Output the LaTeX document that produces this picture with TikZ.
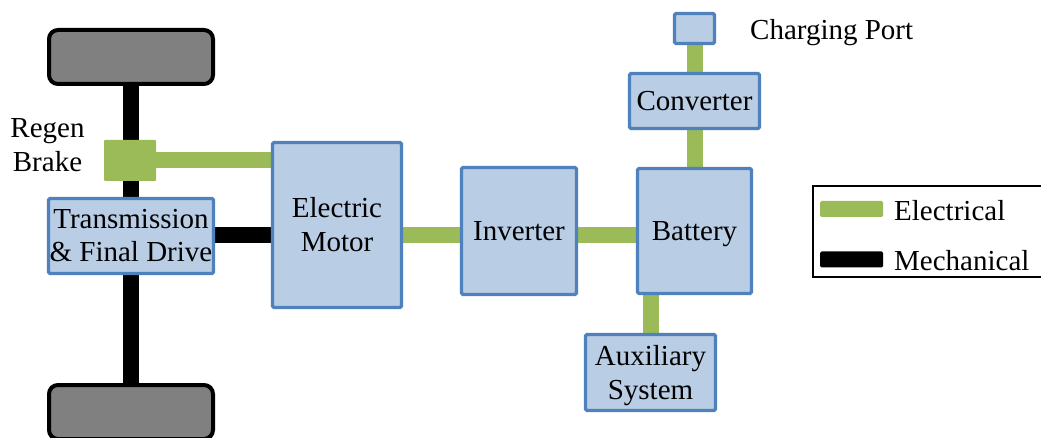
\documentclass[tikz,border=0pt]{standalone}
\usepackage{fontspec}
\setmainfont{Liberation Serif}
\usetikzlibrary{backgrounds}
\definecolor{elgreen}{HTML}{9BBB59}
\definecolor{boxfill}{HTML}{B9CDE5}
\definecolor{boxline}{HTML}{4F81BD}
\definecolor{wheelgray}{HTML}{808080}
\tikzset{
  txt/.style={font=\fontsize{29}{34}\selectfont, inner sep=0pt, align=center},
  block/.style={txt, draw=boxline, fill=boxfill, line width=3.3pt, rounded corners=1.5pt},
  wheel/.style={draw=black, fill=wheelgray, line width=4pt, rounded corners=9pt, minimum width=164pt, minimum height=54pt, inner sep=0pt},
  elec/.style={elgreen, line width=16pt},
  mech/.style={black, line width=16pt},
}
\begin{document}
\begin{tikzpicture}[x=1pt, y=-1pt]
\useasboundingbox (0,0) rectangle (1041,438);
% wheels
\node[wheel] (wheelT) at (131,57) {};
\node[wheel] (wheelB) at (131,412) {};
% blocks
\node[fill=elgreen, minimum width=52pt, minimum height=41pt, inner sep=0pt, rounded corners=1pt] (brake) at (130,160.5) {};
\node[block, minimum width=165pt, minimum height=75pt] (trans) at (131,236) {Transmission\\[-1pt]\&~Final Drive};
\node[block, minimum width=129pt, minimum height=165pt] (motor) at (337,225) {Electric\\Motor};
\node[block, minimum width=115pt, minimum height=127pt, text depth=-4pt] (inv) at (519,231) {Inverter};
\node[block, minimum width=114pt, minimum height=125pt, text depth=0pt] (bat) at (694.5,231) {Battery};
\node[block, minimum width=130pt, minimum height=55pt] (conv) at (694.5,101) {Converter};
\node[block, minimum width=40pt, minimum height=30pt] (port) at (694.5,28.5) {};
\node[block, minimum width=130pt, minimum height=76pt, text depth=0pt] (aux) at (650.5,372.5) {Auxiliary\\System};
% labels
\node[txt, anchor=west] (portlbl) at (750,33) {Charging Port};
\node[txt] (regenlbl) at (47.5,145) {Regen\\Brake};
% legend
\node[draw=black, line width=2pt, minimum width=250pt, minimum height=91pt, inner sep=0pt, anchor=north west] (legend) at (812,185) {};
\node[fill=elgreen, minimum width=63pt, minimum height=16pt, inner sep=0pt, rounded corners=1.5pt] (legE) at (851.5,209) {};
\node[fill=black, minimum width=63pt, minimum height=16pt, inner sep=0pt, rounded corners=1.5pt] (legM) at (851.5,259.5) {};
\node[txt, anchor=west] (legEt) at (894,211) {Electrical};
\node[txt, anchor=west] (legMt) at (894,261) {Mechanical};
% connectors
\begin{pgfonlayer}{background}
\draw[mech] (wheelT) -- (wheelB);
\draw[elec] (brake.east) -- (brake.east -| motor.west);
\draw[mech] ([yshift=0.5pt]trans.east) -- ([yshift=0.5pt]trans.east -| motor.west);
\draw[elec] ([yshift=0.5pt]trans.east -| motor.east) -- ([yshift=0.5pt]trans.east -| inv.west);
\draw[elec] ([yshift=0.5pt]trans.east -| inv.east) -- ([yshift=0.5pt]trans.east -| bat.west);
\draw[elec] (bat.north) -- (conv.south);
\draw[elec] (conv.north) -- (port.south);
\draw[elec] (aux.north) -- (aux.north |- bat.south);
\end{pgfonlayer}
\end{tikzpicture}
\end{document}
